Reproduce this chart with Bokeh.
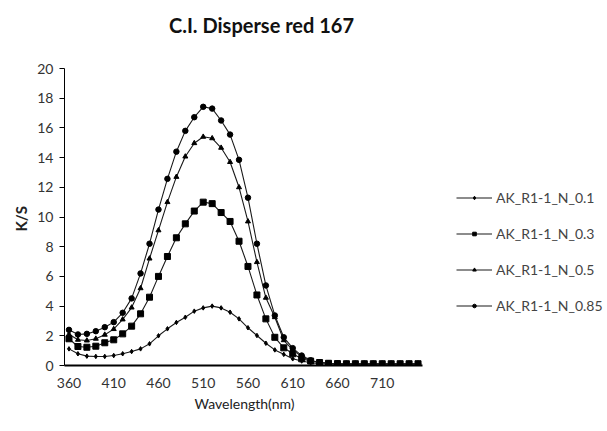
from bokeh.plotting import figure
from bokeh.models import FixedTicker, Legend, LegendItem, Range1d, Title, Label
from bokeh.embed import file_html
from bokeh.resources import INLINE

wavelength = list(range(360, 760, 10))

ks_01 = [1.12, 0.79, 0.63, 0.61, 0.61, 0.67, 0.79, 0.94, 1.12, 1.46,
         2.0, 2.47, 2.9, 3.25, 3.66, 3.88, 4.0, 3.88, 3.59, 3.14,
         2.54, 2.02, 1.5, 1.05, 0.75, 0.45, 0.3, 0.18, 0.12, 0.08,
         0.07, 0.06, 0.06, 0.05, 0.05, 0.05, 0.05, 0.05, 0.05, 0.05]
ks_03 = [1.8, 1.28, 1.23, 1.3, 1.53, 1.73, 2.13, 2.65, 3.48, 4.6,
         6.0, 7.34, 8.6, 9.54, 10.4, 11.0, 10.9, 10.3, 9.7, 8.37,
         6.67, 4.75, 3.14, 1.9, 1.19, 0.79, 0.45, 0.3, 0.2, 0.15,
         0.13, 0.12, 0.12, 0.12, 0.12, 0.12, 0.12, 0.12, 0.12, 0.12]
ks_05 = [2.1, 1.73, 1.68, 1.8, 2.07, 2.45, 3.1, 3.9, 5.2, 7.2,
         9.1, 11.0, 12.7, 14.07, 14.97, 15.4, 15.3, 14.66, 13.7, 12.0,
         9.7, 6.96, 4.56, 3.25, 1.7, 1.05, 0.6, 0.3, 0.2, 0.15,
         0.12, 0.1, 0.1, 0.1, 0.1, 0.1, 0.1, 0.1, 0.1, 0.1]
ks_085 = [2.4, 2.09, 2.13, 2.31, 2.58, 2.92, 3.55, 4.52, 6.2, 8.2,
          10.5, 12.57, 14.4, 15.8, 16.72, 17.42, 17.3, 16.5, 15.55, 13.85,
          11.3, 8.2, 5.39, 3.37, 1.9, 1.17, 0.67, 0.35, 0.2, 0.15,
          0.13, 0.12, 0.12, 0.12, 0.12, 0.12, 0.12, 0.12, 0.12, 0.12]

series_names = ["AK_R1-1_N_0.1", "AK_R1-1_N_0.3", "AK_R1-1_N_0.5", "AK_R1-1_N_0.85"]
x_ticks = [360, 410, 460, 510, 560, 610, 660, 710]
y_ticks = list(range(0, 22, 2))
chart_title = "C.I. Disperse red 167"

FONT = "Lato"

# Layout (pixels): plotting area of the axes is x 64..422, y 68..365.
# The frame is larger (x 64..605, y 2..365) so that title and legend fit in it.
X0, X1 = 355.0, 755.0
Y0, Y1 = 0.0, 20.0
ux = (X1 - X0) / (422 - 64)
uy = (Y1 - Y0) / (365 - 68)
x_end = X0 + ux * (605 - 64)
y_end = Y0 + uy * (365 - 2)

p = figure(width=607, height=431, output_backend="svg", toolbar_location=None,
           x_range=Range1d(X0, x_end), y_range=Range1d(Y0, y_end),
           min_border_left=64, min_border_right=2, min_border_top=2,
           min_border_bottom=66)

p.outline_line_color = None
p.grid.visible = False
p.background_fill_color = "white"

p.yaxis.ticker = FixedTicker(ticks=y_ticks)
p.xaxis.ticker = FixedTicker(ticks=x_ticks)
p.xaxis.bounds = (X0, X1)
p.yaxis.bounds = (Y0, Y1)
for ax in (p.xaxis, p.yaxis):
    ax.axis_line_color = "black"
    ax.major_tick_line_color = "black"
    ax.minor_tick_line_color = None
    ax.major_label_text_font = FONT
    ax.major_label_text_font_size = "14px"
    ax.major_label_text_color = "#333333"
p.xaxis.axis_line_width = 2
p.xaxis.major_tick_out = 0
p.xaxis.major_tick_in = 0
p.xaxis.major_label_standoff = 12
p.yaxis.major_tick_out = 5
p.yaxis.major_tick_in = 0
p.yaxis.major_label_standoff = 6

# title, drawn inside the (enlarged) frame, centred at pixel (261, 24)
title = Label(x=X0 + ux * (261 - 64), y=Y0 + uy * (365 - 24), text=chart_title,
              text_align="center", text_baseline="middle",
              text_font=FONT, text_font_size="20px", text_font_style="bold",
              text_color="#111111")
p.add_layout(title)

xlabel = Title(text="Wavelength(nm)", align="left", offset=130,
               text_font=FONT, text_font_size="14px", text_font_style="normal",
               text_color="#222222", standoff=4)
p.add_layout(xlabel, "below")

ylabel = Title(text="K/S", align="left", offset=134,
               text_font=FONT, text_font_size="15px", text_font_style="bold",
               text_color="#222222", standoff=10)
p.add_layout(ylabel, "left")

data = [ks_01, ks_03, ks_05, ks_085]
markers = ["diamond", "square", "triangle", "circle"]
sizes = [4.5, 6, 5, 5.5]
items = []
for name, ys, mk, sz in zip(series_names, data, markers, sizes):
    r1 = p.line(wavelength, ys, line_color="#1a1a1a", line_width=1.1)
    r2 = p.scatter(wavelength, ys, marker=mk, size=sz, fill_color="black",
                   line_color="black")
    items.append(LegendItem(label=name, renderers=[r1, r2]))

legend = Legend(items=items, location=(392, 50))
legend.label_text_font = FONT
legend.label_text_font_size = "14px"
legend.label_text_color = "#444444"
legend.border_line_color = None
legend.background_fill_alpha = 0
legend.glyph_width = 36
legend.glyph_height = 9
legend.label_height = 20
legend.spacing = 16
legend.label_standoff = 4
legend.padding = 0
legend.margin = 0
p.add_layout(legend, "center")

open("out.html", "w").write(file_html(p, INLINE))
